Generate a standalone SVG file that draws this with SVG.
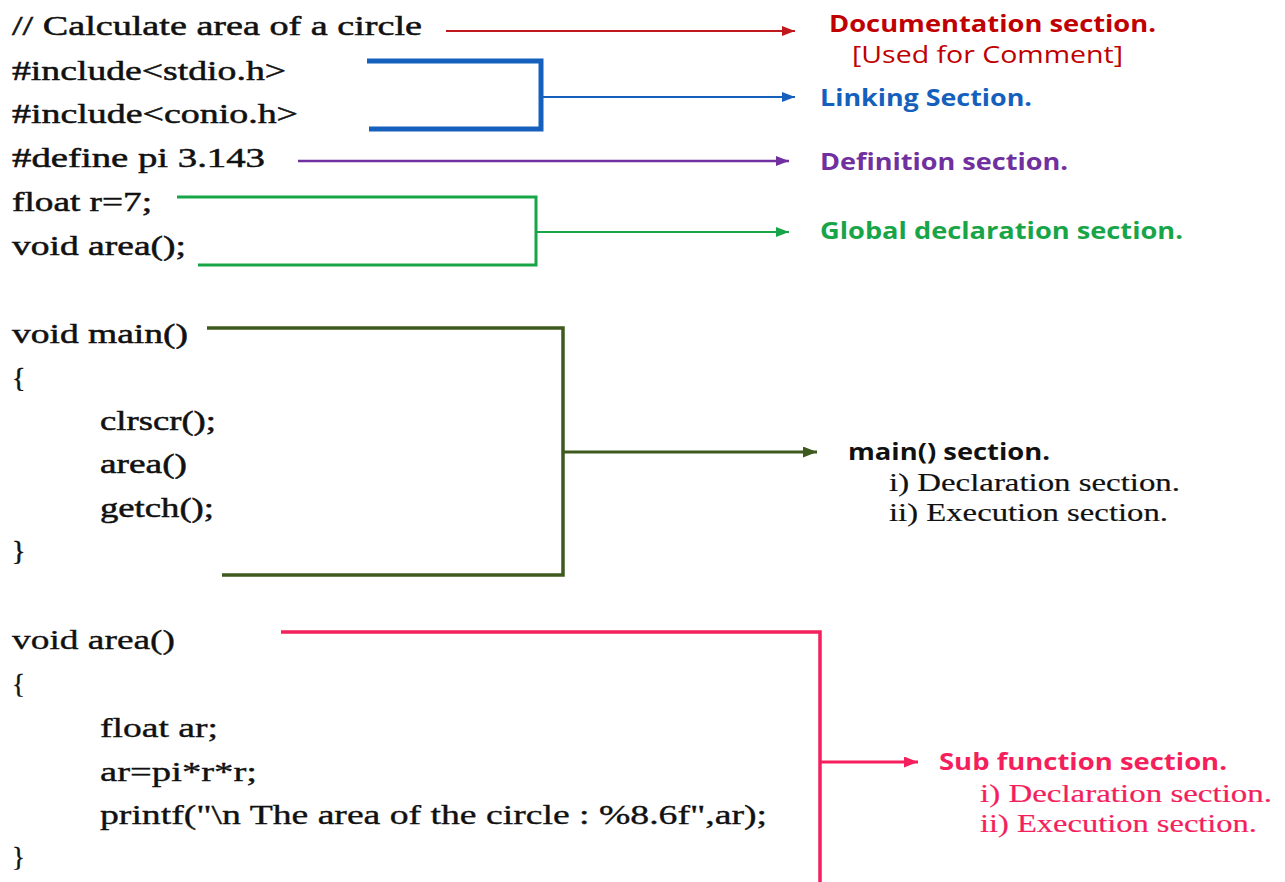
<svg xmlns="http://www.w3.org/2000/svg" width="1285" height="882" viewBox="0 0 1285 882">
<style>
.code{font-family:"Liberation Serif","Times New Roman",serif;font-size:28px;fill:#111;stroke:#111;stroke-width:0.5}
.code3{font-family:"Liberation Serif","Times New Roman",serif;font-size:27px;fill:#111;stroke:#111;stroke-width:0.35}
.lab{font-family:"Open Sans","Noto Sans","Liberation Sans",sans-serif;font-size:23px;font-weight:700}
.labr{font-family:"Open Sans","Noto Sans","Liberation Sans",sans-serif;font-size:23px;font-weight:400}
.sub{font-family:"Liberation Serif","Times New Roman",serif;font-size:26px;stroke-width:0.2}
.ln{fill:none;stroke-linejoin:miter;stroke-linecap:butt}
</style>
<defs>
<marker id="m-red" markerUnits="userSpaceOnUse" markerWidth="13" markerHeight="10" refX="13" refY="5" orient="auto"><path d="M0,0 L13,5 L0,10 z" fill="#C0181D"/></marker>
<marker id="m-blue" markerUnits="userSpaceOnUse" markerWidth="13" markerHeight="10" refX="13" refY="5" orient="auto"><path d="M0,0 L13,5 L0,10 z" fill="#1560BD"/></marker>
<marker id="m-purple" markerUnits="userSpaceOnUse" markerWidth="13" markerHeight="10" refX="13" refY="5" orient="auto"><path d="M0,0 L13,5 L0,10 z" fill="#7030A0"/></marker>
<marker id="m-green" markerUnits="userSpaceOnUse" markerWidth="13" markerHeight="10" refX="13" refY="5" orient="auto"><path d="M0,0 L13,5 L0,10 z" fill="#18A548"/></marker>
<marker id="m-olive" markerUnits="userSpaceOnUse" markerWidth="14" markerHeight="11" refX="14" refY="5.5" orient="auto"><path d="M0,0 L14,5.5 L0,11 z" fill="#3E5A1E"/></marker>
<marker id="m-pink" markerUnits="userSpaceOnUse" markerWidth="14" markerHeight="11" refX="14" refY="5.5" orient="auto"><path d="M0,0 L14,5.5 L0,11 z" fill="#F41F5C"/></marker>
</defs>
<rect width="1285" height="882" fill="#ffffff"/>

<g id="connectors">
<path class="ln" d="M446,31 H795" stroke="#C0181D" stroke-width="2.2" marker-end="url(#m-red)"/>
<path class="ln" d="M367,61 H541 V129 H369" stroke="#1560BD" stroke-width="5"/>
<path class="ln" d="M541,97 H795" stroke="#1560BD" stroke-width="2" marker-end="url(#m-blue)"/>
<path class="ln" d="M298,161 H789" stroke="#7030A0" stroke-width="2.5" marker-end="url(#m-purple)"/>
<path class="ln" d="M177,197 H536 V265 H198" stroke="#18A548" stroke-width="3"/>
<path class="ln" d="M536,232 H789" stroke="#18A548" stroke-width="2.2" marker-end="url(#m-green)"/>
<path class="ln" d="M207,328 H563 V575 H222" stroke="#3E5A1E" stroke-width="3.5"/>
<path class="ln" d="M563,452 H817" stroke="#3E5A1E" stroke-width="3" marker-end="url(#m-olive)"/>
<path class="ln" d="M281,632 H820 V882" stroke="#F41F5C" stroke-width="3.5"/>
<path class="ln" d="M820,762 H918" stroke="#F41F5C" stroke-width="3" marker-end="url(#m-pink)"/>
</g>

<g id="code-header">
<text class="code" x="12" y="35" textLength="410" lengthAdjust="spacingAndGlyphs">// Calculate area of a circle</text>
<text class="code" x="12" y="80" textLength="274" lengthAdjust="spacingAndGlyphs">#include&lt;stdio.h&gt;</text>
<text class="code" x="12" y="123" textLength="286" lengthAdjust="spacingAndGlyphs">#include&lt;conio.h&gt;</text>
<text class="code" x="12" y="167" textLength="253" lengthAdjust="spacingAndGlyphs">#define pi 3.143</text>
<text class="code" x="12" y="211" textLength="140" lengthAdjust="spacingAndGlyphs">float r=7;</text>
<text class="code" x="12" y="255" textLength="174" lengthAdjust="spacingAndGlyphs">void area();</text>
</g>

<g id="code-main">
<text class="code" x="12" y="343" textLength="176" lengthAdjust="spacingAndGlyphs">void main()</text>
<text class="code" x="12" y="387">{</text>
<text class="code" x="100" y="430" textLength="116" lengthAdjust="spacingAndGlyphs">clrscr();</text>
<text class="code" x="100" y="473" textLength="87" lengthAdjust="spacingAndGlyphs">area()</text>
<text class="code" x="100" y="517" textLength="114" lengthAdjust="spacingAndGlyphs">getch();</text>
<text class="code" x="12" y="560">}</text>
</g>

<g id="code-area">
<text class="code3" x="12" y="649" textLength="163" lengthAdjust="spacingAndGlyphs">void area()</text>
<text class="code3" x="12" y="693">{</text>
<text class="code3" x="100" y="737" textLength="118" lengthAdjust="spacingAndGlyphs">float ar;</text>
<text class="code3" x="100" y="781" textLength="157" lengthAdjust="spacingAndGlyphs">ar=pi*r*r;</text>
<text class="code3" x="100" y="824" textLength="667" lengthAdjust="spacingAndGlyphs">printf("\n The area of the circle : %8.6f",ar);</text>
<text class="code3" x="12" y="866">}</text>
</g>

<g id="label-doc">
<text class="lab" x="829" y="32" fill="#C00000" textLength="327" lengthAdjust="spacingAndGlyphs">Documentation section.</text>
<text class="labr" x="852" y="63" fill="#C00000" textLength="271" lengthAdjust="spacingAndGlyphs">[Used for Comment]</text>
</g>
<g id="label-link">
<text class="lab" x="820" y="106" fill="#1560BD" textLength="212" lengthAdjust="spacingAndGlyphs">Linking Section.</text>
</g>
<g id="label-def">
<text class="lab" x="820" y="170" fill="#7030A0" textLength="248" lengthAdjust="spacingAndGlyphs">Definition section.</text>
</g>
<g id="label-global">
<text class="lab" x="820" y="239" fill="#18A548" textLength="363" lengthAdjust="spacingAndGlyphs">Global declaration section.</text>
</g>
<g id="label-main">
<text class="lab" x="848" y="460" fill="#111" textLength="202" lengthAdjust="spacingAndGlyphs">main() section.</text>
<text class="sub" x="889" y="491" fill="#111" stroke="#111" textLength="291" lengthAdjust="spacingAndGlyphs">i) Declaration section.</text>
<text class="sub" x="889" y="521" fill="#111" stroke="#111" textLength="279" lengthAdjust="spacingAndGlyphs">ii) Execution section.</text>
</g>
<g id="label-sub">
<text class="lab" x="939" y="770" fill="#F41F5C" textLength="288" lengthAdjust="spacingAndGlyphs">Sub function section.</text>
<text class="sub" x="980" y="802" fill="#F41F5C" stroke="#F41F5C" textLength="292" lengthAdjust="spacingAndGlyphs">i) Declaration section.</text>
<text class="sub" x="980" y="832" fill="#F41F5C" stroke="#F41F5C" textLength="277" lengthAdjust="spacingAndGlyphs">ii) Execution section.</text>
</g>
</svg>
